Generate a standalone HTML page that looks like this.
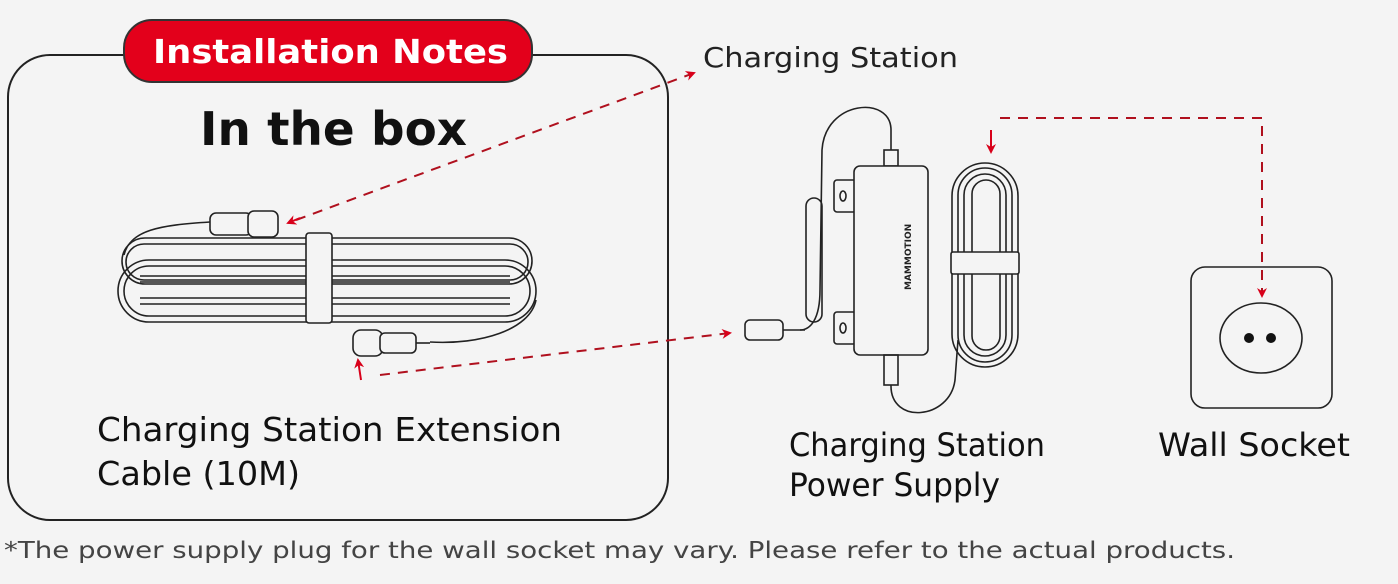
<!DOCTYPE html>
<html><head><meta charset="utf-8"><style>
html,body{margin:0;padding:0;background:#f4f4f4;}
svg{display:block;}
text{font-family:"DejaVu Sans","Liberation Sans",sans-serif;}
</style></head><body>
<svg width="1398" height="584" viewBox="0 0 1398 584" xmlns="http://www.w3.org/2000/svg">
<defs>
<marker id="ah" markerWidth="10" markerHeight="10" refX="8" refY="5" orient="auto" markerUnits="userSpaceOnUse">
<path d="M0,0 L10,5 L0,10 L3,5 Z" fill="#d8001a"/></marker>
</defs>
<rect width="1398" height="584" fill="#f4f4f4"/>
<rect x="8" y="55" width="660" height="465" rx="42" fill="none" stroke="#222" stroke-width="2"/>
<rect x="124" y="20" width="408" height="62" rx="28" fill="#e3001b" stroke="#333" stroke-width="2"/>
<text x="153" y="63" font-size="33" font-weight="bold" fill="#fff" textLength="355" lengthAdjust="spacingAndGlyphs">Installation Notes</text>
<text x="200" y="145" font-size="46" font-weight="bold" fill="#111" textLength="267" lengthAdjust="spacingAndGlyphs">In the box</text>
<text x="703" y="67" font-size="28" fill="#222" textLength="255" lengthAdjust="spacingAndGlyphs">Charging Station</text>
<text x="97" y="441" font-size="33" fill="#111" textLength="465" lengthAdjust="spacingAndGlyphs">Charging Station Extension</text>
<text x="97" y="485" font-size="33" fill="#111" textLength="203" lengthAdjust="spacingAndGlyphs">Cable (10M)</text>
<text x="789" y="456" font-size="32" fill="#111" textLength="256" lengthAdjust="spacingAndGlyphs">Charging Station</text>
<text x="789" y="496" font-size="32" fill="#111" textLength="211" lengthAdjust="spacingAndGlyphs">Power Supply</text>
<text x="1158" y="456" font-size="32" fill="#111" textLength="192" lengthAdjust="spacingAndGlyphs">Wall Socket</text>
<text x="4" y="558" font-size="23" fill="#444" textLength="1231" lengthAdjust="spacingAndGlyphs">*The power supply plug for the wall socket may vary. Please refer to the actual products.</text>

<!-- extension cable -->
<g fill="none" stroke="#222" stroke-width="1.6">
<path d="M210,222 C160,225 130,230 124,255"/>
<rect x="122" y="238" width="410" height="46" rx="23"/>
<rect x="126" y="244" width="402" height="36" rx="18"/>
<rect x="118" y="260" width="418" height="62" rx="31"/>
<rect x="124" y="266" width="406" height="50" rx="25"/>
<line x1="140" y1="276" x2="510" y2="276"/><line x1="140" y1="282" x2="510" y2="282"/>
<line x1="140" y1="298" x2="510" y2="298"/><line x1="140" y1="304" x2="510" y2="304"/>
<path d="M536,300 C530,330 480,345 430,342"/>
<rect x="306" y="233" width="26" height="90" rx="3" fill="#f4f4f4"/>
<rect x="210" y="213" width="42" height="22" rx="6" fill="#f4f4f4"/>
<rect x="248" y="211" width="30" height="26" rx="6" fill="#f4f4f4"/>
<rect x="353" y="330" width="30" height="26" rx="8" fill="#f4f4f4"/>
<rect x="380" y="333" width="36" height="20" rx="5" fill="#f4f4f4"/>
<line x1="416" y1="343" x2="430" y2="343"/>
</g>

<!-- power supply -->
<g fill="none" stroke="#222" stroke-width="1.6">
<path d="M891,150 L891,130 C891,95 825,100 822,150 L820,290 C820,320 810,330 800,330"/>
<rect x="806" y="198" width="16" height="124" rx="8"/>
<rect x="745" y="320" width="38" height="20" rx="5" fill="#f4f4f4"/>
<line x1="783" y1="330" x2="805" y2="330"/>
<rect x="884" y="150" width="14" height="16" fill="#f4f4f4"/>
<rect x="834" y="180" width="22" height="32" rx="3"/>
<rect x="834" y="312" width="22" height="32" rx="3"/>
<ellipse cx="843" cy="196" rx="3" ry="5"/><ellipse cx="843" cy="328" rx="3" ry="5"/>
<rect x="854" y="166" width="74" height="189" rx="6" fill="#f4f4f4"/>
<rect x="884" y="355" width="14" height="30"/>
<path d="M891,385 C890,425 950,420 955,380 L958,340"/>
<rect x="952" y="163" width="66" height="204" rx="33"/>
<rect x="958" y="168" width="54" height="194" rx="27"/>
<rect x="964" y="174" width="42" height="182" rx="21"/>
<rect x="972" y="180" width="28" height="170" rx="14"/>
<rect x="951" y="252" width="68" height="22" rx="2" fill="#f4f4f4"/>
</g>
<text x="0" y="0" font-size="9" font-weight="bold" fill="#222" transform="translate(911,290) rotate(90) scale(-1,-1)">MAMMOTION</text>

<!-- wall socket -->
<rect x="1191" y="267" width="141" height="141" rx="14" fill="none" stroke="#222" stroke-width="1.6"/>
<ellipse cx="1261" cy="338" rx="41" ry="35" fill="none" stroke="#222" stroke-width="1.6"/>
<circle cx="1249" cy="338" r="5" fill="#111"/><circle cx="1271" cy="338" r="5" fill="#111"/>

<!-- dashed connectors -->
<g fill="none" stroke="#b0101e" stroke-width="2" stroke-dasharray="10,8">
<line x1="296" y1="220" x2="694" y2="73" marker-end="url(#ah)"/>
<line x1="380" y1="375" x2="730" y2="333" marker-end="url(#ah)"/>
<path d="M1000,118 L1262,118 L1262,296" marker-end="url(#ah)"/>
</g>
<g stroke="#d8001a" stroke-width="2" fill="none">
<line x1="300" y1="218" x2="288" y2="223" marker-end="url(#ah)"/>
<line x1="361" y1="380" x2="358" y2="360" marker-end="url(#ah)"/>
<line x1="991" y1="130" x2="991" y2="152" marker-end="url(#ah)"/>
</g>
</svg>
</body></html>
